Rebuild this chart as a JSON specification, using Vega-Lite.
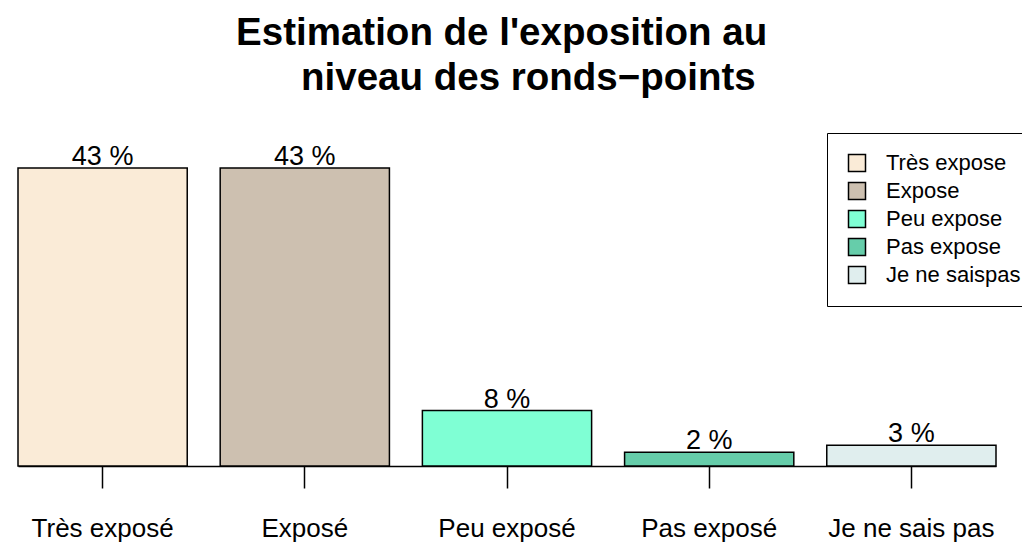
{
  "$schema": "https://vega.github.io/schema/vega-lite/v6.json",
  "width": 978,
  "height": 298,
  "autosize": {"type": "none"},
  "padding": {"left": 18, "top": 168, "right": 26, "bottom": 78},
  "background": "white",
  "config": {"view": {"stroke": null}},
  "title": {
    "text": ["Estimation de l'exposition au\u00a0\u200b", "\u200b\u00a0\u00a0\u00a0\u00a0niveau des ronds\u2212points"],
    "font": "Liberation Sans",
    "fontSize": 38.5,
    "fontWeight": "bold",
    "color": "black",
    "anchor": "middle",
    "lineHeight": 45,
    "offset": 34
  },
  "data": {
    "values": [
      {"categorie": "Très exposé", "legende": "Très expose", "pourcentage": 43, "etiquette": "43 %"},
      {"categorie": "Exposé", "legende": "Expose", "pourcentage": 43, "etiquette": "43 %"},
      {"categorie": "Peu exposé", "legende": "Peu expose", "pourcentage": 8, "etiquette": "8 %"},
      {"categorie": "Pas exposé", "legende": "Pas expose", "pourcentage": 2, "etiquette": "2 %"},
      {"categorie": "Je ne sais pas", "legende": "Je ne saispas", "pourcentage": 3, "etiquette": "3 %"}
    ]
  },
  "encoding": {
    "x": {
      "field": "categorie",
      "type": "nominal",
      "sort": null,
      "scale": {"paddingInner": 0.163, "paddingOuter": 0},
      "axis": {
        "title": null,
        "labelAngle": 0,
        "labelFont": "Liberation Sans",
        "labelFontSize": 26,
        "labelColor": "black",
        "labelBaseline": "alphabetic",
        "labelPadding": 48,
        "labelLimit": 400,
        "domainColor": "black",
        "domainWidth": 1.5,
        "tickColor": "black",
        "tickWidth": 1.5,
        "tickSize": 22
      }
    },
    "y": {
      "field": "pourcentage",
      "type": "quantitative",
      "scale": {"domain": [0, 43], "nice": false, "zero": true},
      "axis": null
    }
  },
  "layer": [
    {
      "mark": {"type": "bar", "stroke": "black", "strokeWidth": 1.5, "opacity": 1},
      "encoding": {
        "color": {
          "field": "legende",
          "type": "nominal",
          "scale": {
            "domain": ["Très expose", "Expose", "Peu expose", "Pas expose", "Je ne saispas"],
            "range": ["#FAEBD7", "#CDC0B0", "#7FFFD4", "#66CDAA", "#E0EEEE"]
          },
          "legend": {
            "title": null,
            "orient": "none",
            "legendX": 809,
            "legendY": -35,
            "strokeColor": "black",
            "fillColor": "white",
            "padding": 19,
            "symbolType": "square",
            "symbolSize": 289,
            "symbolStrokeColor": "black",
            "symbolStrokeWidth": 1.5,
            "symbolOpacity": 1,
            "labelFont": "Liberation Sans",
            "labelFontSize": 22,
            "labelColor": "black",
            "labelOffset": 18,
            "labelLimit": 300,
            "rowPadding": 4
          }
        }
      }
    },
    {
      "mark": {"type": "text", "baseline": "alphabetic", "dy": -3, "font": "Liberation Sans", "fontSize": 27, "color": "black"},
      "encoding": {
        "text": {"field": "etiquette", "type": "nominal"}
      }
    }
  ]
}
